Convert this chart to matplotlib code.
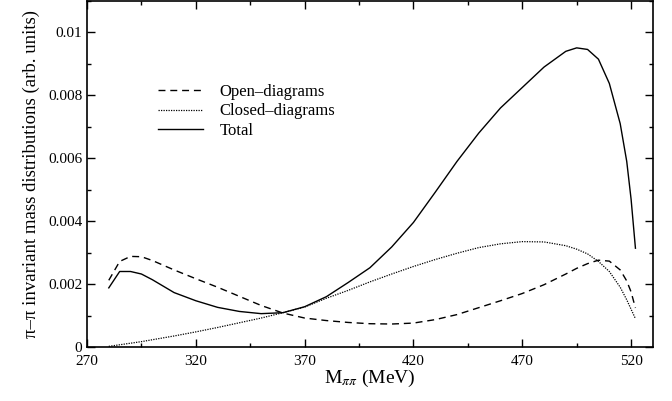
import matplotlib
matplotlib.use("Agg")
import matplotlib.pyplot as plt
from matplotlib.ticker import MultipleLocator

plt.rcParams['font.family'] = ['Liberation Serif', 'DejaVu Serif']
plt.rcParams['mathtext.fontset'] = 'stix'

# M_pipi (MeV)
mass = [280, 285, 290, 295, 300, 310, 320, 330, 340, 350, 360, 370, 380, 390,
        400, 410, 420, 430, 440, 450, 460, 470, 480, 490, 495, 500, 505, 510,
        515, 518, 520, 522]

open_diagrams = [0.00212, 0.00272, 0.00288, 0.00287, 0.00275, 0.00245, 0.00217,
                 0.00190, 0.00161, 0.00132, 0.00108, 0.00092, 0.00084, 0.00078,
                 0.00074, 0.00073, 0.00076, 0.00087, 0.00103, 0.00125, 0.00147,
                 0.00170, 0.00198, 0.00232, 0.00250, 0.00265, 0.00276, 0.00273,
                 0.00245, 0.00210, 0.00175, 0.00124]

closed_diagrams = [0.00002, 0.00007, 0.00012, 0.00017, 0.00023, 0.00035, 0.00048,
                   0.00062, 0.00077, 0.00092, 0.00109, 0.00127, 0.00155, 0.00180,
                   0.00207, 0.00232, 0.00256, 0.00278, 0.00298, 0.00316, 0.00328,
                   0.00335, 0.00334, 0.00322, 0.00311, 0.00296, 0.00272, 0.00240,
                   0.00190, 0.00150, 0.00120, 0.00090]

total = [0.00188, 0.00240, 0.00240, 0.00232, 0.00214, 0.00173, 0.00147, 0.00126,
         0.00113, 0.00106, 0.00109, 0.00128, 0.00160, 0.00205, 0.00252, 0.00318,
         0.00396, 0.00492, 0.00590, 0.00680, 0.00760, 0.00825, 0.00890, 0.00940,
         0.00951, 0.00946, 0.00915, 0.00838, 0.00710, 0.00590, 0.00470, 0.00314]

fig = plt.figure(figsize=(6.72, 4.01), dpi=100)
ax = fig.add_axes([0.1295, 0.1347, 0.842, 0.8628])

ax.plot(mass, open_diagrams, color='black', lw=1.0, linestyle=(0, (5, 3.5)),
        label='Open\u2013diagrams')
ax.plot(mass, closed_diagrams, color='black', lw=0.9, linestyle=(0, (1, 1)),
        label='Closed\u2013diagrams')
ax.plot(mass, total, color='black', lw=1.0, label='Total')

ax.set_xlim(270, 530)
ax.set_ylim(0, 0.011)
ax.xaxis.set_major_locator(MultipleLocator(50, offset=20))
ax.xaxis.set_minor_locator(MultipleLocator(25, offset=20))
ax.yaxis.set_major_locator(MultipleLocator(0.002))
ax.yaxis.set_minor_locator(MultipleLocator(0.001))
ax.yaxis.set_major_formatter(plt.FuncFormatter(lambda v, p: '0' if v == 0 else ('%g' % round(v, 4))))

ax.tick_params(which='both', direction='in', top=True, right=True, labelsize=11, width=1)
ax.tick_params(which='major', length=6)
ax.tick_params(which='minor', length=3)
ax.tick_params(axis='x', which='major', pad=6)
for s in ax.spines.values():
    s.set_linewidth(1.2)

ax.set_xlabel(r'M$_{\pi\pi}$ (MeV)', fontsize=14, labelpad=0)
ax.set_ylabel('\u03c0\u2013\u03c0 invariant mass distributions (arb. units)', fontsize=13.5, labelpad=6)

ax.legend(loc='upper left', bbox_to_anchor=(0.125, 0.76), frameon=False, fontsize=12,
          handlelength=2.7, handletextpad=1.0, labelspacing=0.2, borderpad=0,
          borderaxespad=0)

fig.savefig('out.png', dpi=100)
